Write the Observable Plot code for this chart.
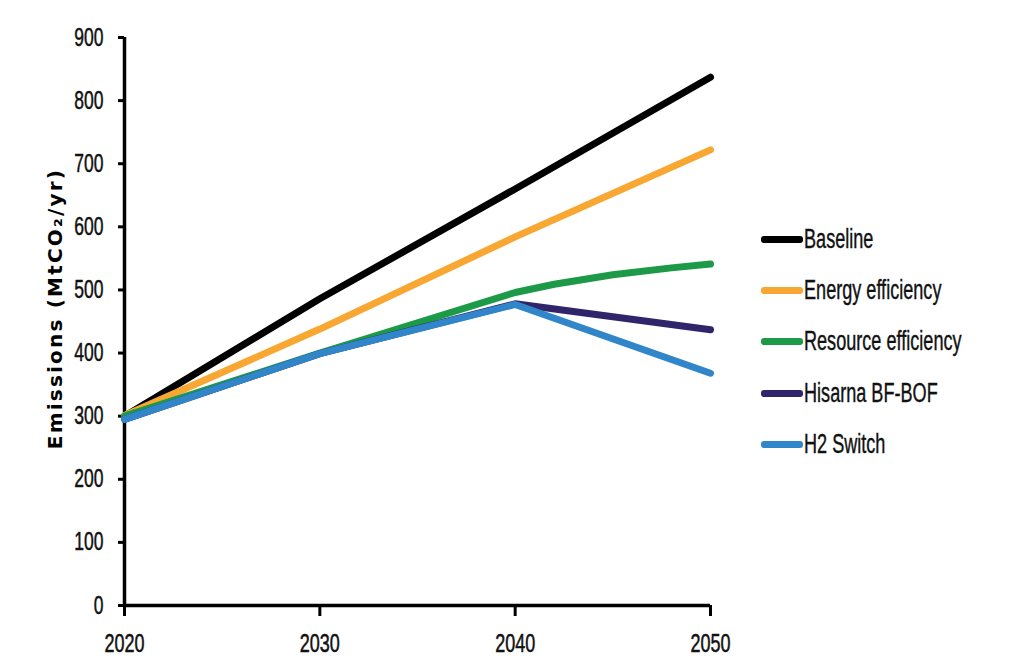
<!DOCTYPE html>
<html>
<head>
<meta charset="utf-8">
<script src="https://cdn.jsdelivr.net/npm/d3@7"></script>
<script src="https://cdn.jsdelivr.net/npm/@observablehq/plot@0.6"></script>
<style>
  html, body { margin: 0; padding: 0; background: #fff; }
  #wrap { position: relative; width: 1018px; height: 667px; }
  #legend { position: absolute; left: 761px; top: 214px; font-family: "Liberation Sans", Arial, sans-serif; font-size: 27px; color: #111; -webkit-text-stroke: 0.4px #111; }
  .item { display: flex; align-items: center; height: 51.2px; white-space: nowrap; }
  .sw { width: 42px; height: 7px; border-radius: 3px; margin-right: 1px; flex: none; -webkit-text-stroke: 0; }
  .lab { display: inline-block; transform: scaleX(0.67); transform-origin: left center; }
</style>
</head>
<body>
<div id="wrap"></div>
<script>
const scenarios = ["Baseline", "Energy efficiency", "Resource efficiency", "Hisarna BF-BOF", "H2 Switch"];
const colors = ["#000000", "#F8A832", "#1C9A48", "#30256B", "#3186C9"];

const baselineYears = [2020, 2030, 2040, 2050];
const baselineValues = [300, 486, 660, 837];

const energyYears = [2020, 2030, 2040, 2050];
const energyValues = [301, 438, 584, 722];

const resourceYears = [2020, 2030, 2035, 2040, 2042, 2045, 2048, 2050];
const resourceValues = [300, 400, 448, 496, 509, 524, 535, 541];

const hisarnaYears = [2020, 2030, 2040, 2050];
const hisarnaValues = [295, 399, 478, 437];

const h2Years = [2020, 2030, 2040, 2050];
const h2Values = [295, 399, 477, 368];

const xTicks = [2020, 2030, 2040, 2050];
const yTicks = [0, 100, 200, 300, 400, 500, 600, 700, 800, 900];
const yLabel = "Emissions (MtCO₂/yr)";

const seriesYears = [baselineYears, energyYears, resourceYears, hisarnaYears, h2Years];
const seriesValues = [baselineValues, energyValues, resourceValues, hisarnaValues, h2Values];
const data = scenarios.flatMap((s, i) => seriesYears[i].map((y, j) => ({scenario: s, year: y, value: seriesValues[i][j]})));

const tickFont = "Liberation Sans, Arial, sans-serif";

const chart = Plot.plot({
  width: 1018,
  height: 667,
  marginLeft: 124,
  marginRight: 308,
  marginTop: 37,
  marginBottom: 62,
  style: {background: "#fff", color: "#000"},
  x: {domain: [2020, 2050]},
  y: {domain: [0, 900]},
  color: {domain: scenarios, range: colors},
  marks: [
    Plot.axisX({ticks: xTicks, tickFormat: d => String(d), tickSize: 11, tickPadding: 18, strokeWidth: 3, fontSize: 25, fontFamily: tickFont, fill: "#111", label: null}),
    Plot.axisY({ticks: yTicks, tickSize: 6, tickPadding: 15, strokeWidth: 3, fontSize: 25, fontFamily: tickFont, fill: "#111", label: null}),
    Plot.ruleX([2020], {y1: 0, y2: 900, strokeWidth: 3.5}),
    Plot.ruleY([0], {x1: 2020, x2: 2050, strokeWidth: 3.5}),
    Plot.line(data, {x: "year", y: "value", z: "scenario", stroke: "scenario", strokeWidth: 7, strokeLinecap: "round", strokeLinejoin: "round"}),
    Plot.text([yLabel], {frameAnchor: "left", textAnchor: "middle", rotate: -90, dx: -69, dy: -13, fontSize: 20, fontWeight: "bold", fontFamily: "DejaVu Sans, sans-serif", fill: "#000"})
  ]
});

const wrap = document.getElementById("wrap");
wrap.appendChild(chart);

// condense tick labels horizontally (narrow, tall figures as in the reference)
function condense(sel, sx) {
  d3.select(chart).selectAll(sel).each(function() {
    const w = this.getComputedTextLength();
    if (w > 0) {
      this.setAttribute("textLength", (w * sx).toFixed(2));
      this.setAttribute("lengthAdjust", "spacingAndGlyphs");
    }
    this.style.stroke = "#111";
    this.style.strokeWidth = "0.5px";
  });
}
condense('g[aria-label="x-axis tick label"] text', 0.72);
condense('g[aria-label="y-axis tick label"] text', 0.7);
d3.select(chart).selectAll('g[aria-label="text"] text').attr("letter-spacing", "2.2px");

const legend = document.createElement("div");
legend.id = "legend";
scenarios.forEach((s, i) => {
  const item = document.createElement("div");
  item.className = "item";
  const sw = document.createElement("div");
  sw.className = "sw";
  sw.style.background = colors[i];
  const lab = document.createElement("span");
  lab.className = "lab";
  lab.textContent = s;
  item.appendChild(sw);
  item.appendChild(lab);
  legend.appendChild(item);
});
wrap.appendChild(legend);
</script>
</body>
</html>
